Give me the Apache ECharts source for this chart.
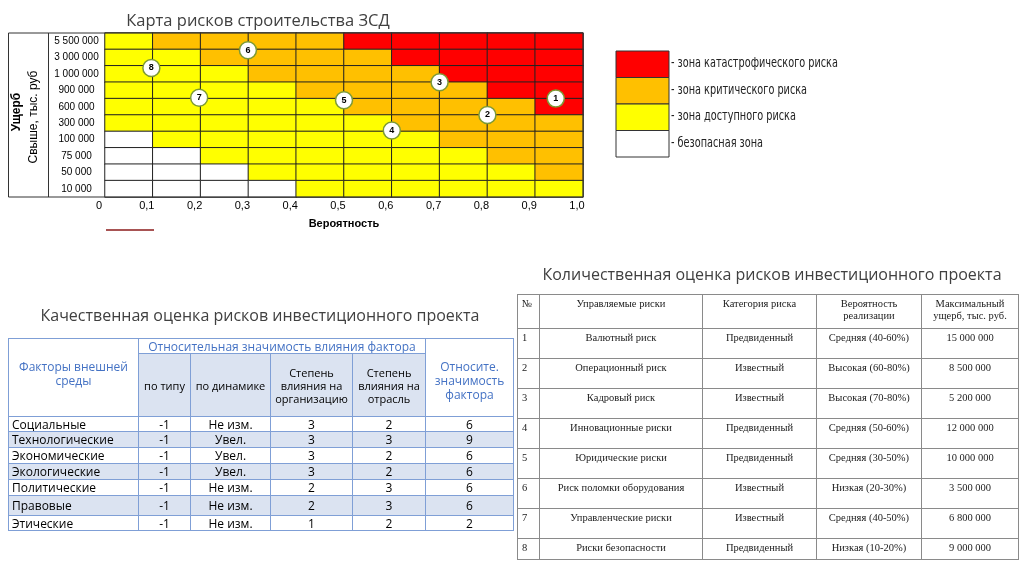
<!DOCTYPE html>
<html><head><meta charset="utf-8">
<script src="https://cdn.jsdelivr.net/npm/echarts@6/dist/echarts.min.js"></script>
<style>
body{margin:0;background:#fff;width:1024px;height:576px;overflow:hidden;}
#chart{position:absolute;left:0;top:0;width:1024px;height:576px;}
.ttl{position:absolute;text-align:center;font-family:'Open Sans',sans-serif;font-size:16px;color:#404040;white-space:nowrap;}
#t1{position:absolute;left:8px;top:338px;width:505px;border-collapse:collapse;table-layout:fixed;font-family:'Open Sans',sans-serif;}
#t1 td{border:1px solid #7f9fd6;padding:0 3px;font-size:12px;line-height:13px;color:#000;text-align:center;overflow:hidden;white-space:nowrap;}
#t1 td.f{text-align:left;}
#t1 td.h{color:#4472C4;font-size:12px;line-height:14px;white-space:normal;}
#t1 td.hh{color:#4472C4;font-size:12px;line-height:13px;white-space:nowrap;padding:0;}
#t1 td.s{background:#dbe3f1;font-size:11px;line-height:13px;white-space:normal;}
#t1 tr.alt td{background:#dbe3f1;}
#t2{position:absolute;left:517px;top:294px;width:501px;border-collapse:collapse;table-layout:fixed;font-family:'Liberation Serif','Times New Roman',serif;}
#t2 td{border:1px solid #8a8a8a;padding:3px 2px 0 2px;font-size:10.5px;line-height:12px;color:#222;text-align:center;vertical-align:top;}
#t2 td.n{text-align:left;padding-left:4px;}
</style>
</head><body>
<div id="chart"></div>
<div class="ttl" style="left:0;width:520px;top:304px;">Качественная оценка рисков инвестиционного проекта</div>
<div class="ttl" style="left:512px;width:520px;top:263px;">Количественная оценка рисков инвестиционного проекта</div>
<table id="t1"></table>
<table id="t2"></table>
<script>
// ---------- heat map data ----------
const probTicks = ['0','0,1','0,2','0,3','0,4','0,5','0,6','0,7','0,8','0,9','1,0'];
const probColumns = ['0–0,1','0,1–0,2','0,2–0,3','0,3–0,4','0,4–0,5','0,5–0,6','0,6–0,7','0,7–0,8','0,8–0,9','0,9–1,0'];
// damage rows, bottom to top
const damageLabels = ['10 000','50 000','75 000','100 000','300 000','600 000','900 000','1 000 000','3 000 000','5 500 000'];
// zone per cell, rows listed top (5 500 000) to bottom (10 000); 0 safe, 1 acceptable, 2 critical, 3 catastrophic
const zoneRows = [
  [1,2,2,2,2,3,3,3,3,3],
  [1,1,2,2,2,2,3,3,3,3],
  [1,1,1,2,2,2,2,3,3,3],
  [1,1,1,1,2,2,2,2,3,3],
  [1,1,1,1,1,2,2,2,2,3],
  [1,1,1,1,1,1,2,2,2,2],
  [0,1,1,1,1,1,1,2,2,2],
  [0,0,1,1,1,1,1,1,2,2],
  [0,0,0,1,1,1,1,1,1,2],
  [0,0,0,0,1,1,1,1,1,1]
];
const zoneColors = ['#FFFFFF','#FFFF00','#FFC000','#FF0000'];
const zoneNames = ['- безопасная зона','- зона доступного риска','- зона критического риска','- зона катастрофического риска'];
// risk markers
const riskIds = ['1','2','3','4','5','6','7','8'];
const riskProb = [0.943,0.8,0.7,0.6,0.5,0.299,0.197,0.097];
const riskLevel = [6.0,5.0,7.0,4.05,5.9,8.95,6.05,7.87];

// ---------- qualitative table ----------
const factors = ['Социальные','Технологические','Экономические','Экологические','Политические','Правовые','Этические'];
const byType = ['-1','-1','-1','-1','-1','-1','-1'];
const byDynamics = ['Не изм.','Увел.','Увел.','Увел.','Не изм.','Не изм.','Не изм.'];
const orgImpact = [3,3,3,3,2,2,1];
const industryImpact = [2,3,2,2,3,3,2];
const significance = [6,9,6,6,6,6,2];

// ---------- quantitative table ----------
const riskNames = ['Валютный риск','Операционный риск','Кадровый риск','Инновационные риски','Юридические риски','Риск поломки оборудования','Управленческие риски','Риски безопасности'];
const riskCategory = ['Предвиденный','Известный','Известный','Предвиденный','Предвиденный','Известный','Известный','Предвиденный'];
const riskProbText = ['Средняя (40-60%)','Высокая (60-80%)','Высокая (70-80%)','Средняя (50-60%)','Средняя (30-50%)','Низкая (20-30%)','Средняя (40-50%)','Низкая (10-20%)'];
const maxDamage = ['15 000 000','8 500 000','5 200 000','12 000 000','10 000 000','3 500 000','6 800 000','9 000 000'];

// build tables
(function(){
  const t1 = document.getElementById('t1');
  const w1 = [130,52,80,82,73,88];
  let h = '<colgroup>' + w1.map(w=>'<col style="width:'+w+'px">').join('') + '</colgroup>';
  h += '<tr><td class="h" rowspan="2" style="padding-bottom:8px">Факторы внешней<br>среды</td><td class="hh" colspan="4" style="height:14px">Относительная значимость влияния фактора</td><td class="h" rowspan="2" style="padding-top:6px">Относите.<br>значимость<br>фактора</td></tr>';
  h += '<tr><td class="s" style="height:62px">по типу</td><td class="s">по динамике</td><td class="s">Степень<br>влияния на<br>организацию</td><td class="s">Степень<br>влияния на<br>отрасль</td></tr>';
  const rh = [14,15,15,15,15,19,14];
  factors.forEach((f,i)=>{
    h += '<tr class="'+(i%2?'alt':'')+'"><td class="f" style="height:'+rh[i]+'px">'+f+'</td><td>'+byType[i]+'</td><td>'+byDynamics[i]+'</td><td>'+orgImpact[i]+'</td><td>'+industryImpact[i]+'</td><td>'+significance[i]+'</td></tr>';
  });
  t1.innerHTML = h;

  const t2 = document.getElementById('t2');
  const w2 = [22,163,114,105,97];
  let g = '<colgroup>' + w2.map(w=>'<col style="width:'+w+'px">').join('') + '</colgroup>';
  g += '<tr style="height:34px"><td class="n">№</td><td>Управляемые риски</td><td>Категория риска</td><td>Вероятность<br>реализации</td><td>Максимальный<br>ущерб, тыс. руб.</td></tr>';
  riskNames.forEach((r,i)=>{
    const hh = i===7 ? 21 : 30;
    g += '<tr style="height:'+hh+'px"><td class="n">'+(i+1)+'</td><td>'+r+'</td><td>'+riskCategory[i]+'</td><td>'+riskProbText[i]+'</td><td>'+maxDamage[i]+'</td></tr>';
  });
  t2.innerHTML = g;
})();

// ---------- chart ----------
const heatData = [];
zoneRows.forEach((row, r) => row.forEach((z, c) => heatData.push([c, zoneRows.length - 1 - r, z])));
const markerData = riskIds.map((id, i) => [riskProb[i], riskLevel[i], id]);

const GL = 105, GT = 33, GW = 478, GH = 164;
const legendGraphics = [];
const legendOrder = [3,2,1,0];
legendOrder.forEach((z, k) => {
  legendGraphics.push({type:'rect', shape:{x:616, y:51 + k*26.5, width:53, height:26.5},
    style:{fill:zoneColors[z], stroke:'#333', lineWidth:1}});
  legendGraphics.push({type:'text', x:671, y:51 + k*26.5 + 12.5, scaleX:0.8,
    style:{text:zoneNames[z], fill:'#222', font:'13.5px "Liberation Sans Narrow", "DejaVu Sans Condensed", sans-serif', textAlign:'left', textVerticalAlign:'middle'}});
});

const chart = echarts.init(document.getElementById('chart'), null, {renderer:'canvas'});
chart.setOption({
  animation:false,
  backgroundColor:'transparent',
  grid:{left:GL, top:GT, width:GW, height:GH, containLabel:false},
  xAxis:[
    {type:'category', data:probColumns, show:false},
    {type:'value', min:0, max:1, interval:0.1, position:'bottom',
     axisLine:{show:false}, axisTick:{show:false}, splitLine:{show:false},
     axisLabel:{formatter:v=>probTicks[Math.round(v*10)], color:'#000', fontSize:11, margin:3, padding:[0,12,0,0],
       fontFamily:'"Liberation Sans Narrow", sans-serif'},
     name:'Вероятность', nameLocation:'middle', nameGap:21,
     nameTextStyle:{fontWeight:'bold', fontSize:11, color:'#000', fontFamily:'"Liberation Sans Narrow", sans-serif'}}
  ],
  yAxis:[
    {type:'category', data:damageLabels, axisLine:{show:false}, axisTick:{show:false}, splitLine:{show:false},
     axisLabel:{align:'center', margin:28.5, color:'#000', fontSize:10, fontFamily:'"Liberation Sans Narrow", sans-serif'}},
    {type:'value', min:0, max:10, show:false}
  ],
  visualMap:{type:'piecewise', show:false, seriesIndex:0, dimension:2,
    pieces:zoneColors.map((c,i)=>({value:i, color:c}))},
  series:[
    {type:'heatmap', xAxisIndex:0, yAxisIndex:0, data:heatData,
     itemStyle:{borderColor:'#222', borderWidth:1}, emphasis:{disabled:true}, silent:true},
    {type:'scatter', xAxisIndex:1, yAxisIndex:1, data:markerData, symbol:'circle', symbolSize:17,
     itemStyle:{color:'#ffffff', borderColor:'#7d9a35', borderWidth:1.5, opacity:1},
     label:{show:true, position:'inside', formatter:p=>p.value[2], color:'#000', fontSize:9, fontWeight:'bold',
       fontFamily:'"Liberation Sans", sans-serif'}, z:5, silent:true}
  ],
  graphic:[
    {type:'rect', shape:{x:8.5, y:GT, width:GL+GW-8.5, height:GH}, style:{fill:'none', stroke:'#333', lineWidth:1}, z:10},
    {type:'line', shape:{x1:48.5, y1:GT, x2:48.5, y2:GT+GH}, style:{stroke:'#333', lineWidth:1}, z:10},
    {type:'text', x:17, y:112, rotation:Math.PI/2,
     style:{text:'Ущерб', font:'bold 12px "Liberation Sans Narrow", sans-serif', fill:'#000', textAlign:'center', textVerticalAlign:'middle'}},
    {type:'text', x:34, y:117, rotation:Math.PI/2,
     style:{text:'Свыше, тыс. руб', font:'12px "Liberation Sans Narrow", sans-serif', fill:'#000', textAlign:'center', textVerticalAlign:'middle'}},
    {type:'text', x:258, y:21,
     style:{text:'Карта рисков строительства ЗСД', font:'16.5px "Open Sans", sans-serif', fill:'#404040', textAlign:'center', textVerticalAlign:'middle'}},
    {type:'line', shape:{x1:106, y1:230, x2:154, y2:230}, style:{stroke:'#8b1a1a', lineWidth:1.5}}
  ].concat(legendGraphics)
});
</script>
</body></html>
